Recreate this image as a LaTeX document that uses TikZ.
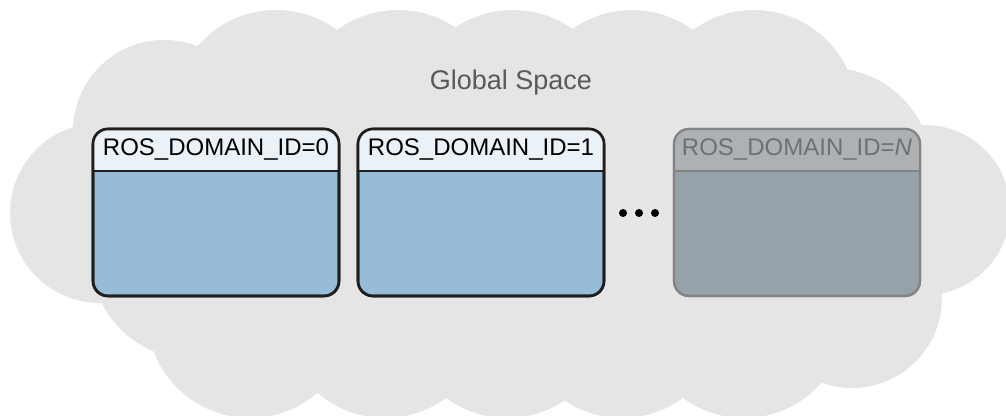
\documentclass[tikz,border=0pt]{standalone}
\usepackage{fontspec}
\setmainfont{Liberation Sans}
\usetikzlibrary{positioning}

\definecolor{cloudgray}{HTML}{E5E5E5}
\definecolor{titlegray}{HTML}{5A5A5A}
\definecolor{boxblue}{HTML}{96BCD8}
\definecolor{headblue}{HTML}{EAF1F7}
\definecolor{boxline}{HTML}{1E1E1E}
\definecolor{ghostbody}{HTML}{96A2AA}
\definecolor{ghosthead}{HTML}{ADB1B4}
\definecolor{ghostline}{HTML}{838383}
\definecolor{ghosttext}{HTML}{707070}

\begin{document}
\begin{tikzpicture}[x=1pt,y=-1pt,
  domainbox/.style={rectangle, rounded corners=15pt, minimum width=246pt,
    minimum height=167pt, inner sep=0pt, outer sep=0pt, line width=2.6pt,
    draw=boxline, fill=boxblue},
  ghostbox/.style={domainbox, draw=ghostline, fill=ghostbody, line width=2.2pt},
  headtext/.style={font=\fontsize{24}{24}\selectfont, text=black},
  globaltitle/.style={font=\fontsize{27}{27}\selectfont, text=titlegray}]
  \useasboundingbox (0,0) rectangle (1006,415);

  % cloud made of overlapping circles
  \begin{scope}
    \clip (0,0) rectangle (1006,415);
    \fill[cloudgray] (150,113) rectangle (880,315);
    \fill[cloudgray]
      (100,213) circle[radius=90]
      (164,131) circle[radius=91]
      (276,113) circle[radius=103]
      (398,113) circle[radius=103]
      (513,113) circle[radius=103]
      (632,113) circle[radius=103]
      (754,113) circle[radius=103]
      (830,170) circle[radius=102]
      (925,210) circle[radius=85]
      (852,298) circle[radius=90]
      (195,255) circle[radius=105]
      (250,315) circle[radius=103]
      (385,315) circle[radius=103]
      (507,315) circle[radius=103]
      (622,315) circle[radius=103]
      (744,315) circle[radius=103];
  \end{scope}

  \node[globaltitle] (gs) at (511,83) {Global Space};

  \node[domainbox] (d0) at (216,212.5) {};
  \node[domainbox, right=19pt of d0] (d1) {};
  \node[ghostbox, right=70pt of d1] (dN) {};
  \coordinate (dots) at (639,213);

  % header strips
  \begin{scope}
    \clip (d0.north west) rectangle ([yshift=-42pt]d0.north east);
    \fill[headblue, rounded corners=15pt] (d0.north west) rectangle (d0.south east);
  \end{scope}
  \begin{scope}
    \clip (d1.north west) rectangle ([yshift=-42pt]d1.north east);
    \fill[headblue, rounded corners=15pt] (d1.north west) rectangle (d1.south east);
  \end{scope}
  \begin{scope}
    \clip (dN.north west) rectangle ([yshift=-42pt]dN.north east);
    \fill[ghosthead, rounded corners=15pt] (dN.north west) rectangle (dN.south east);
  \end{scope}

  \draw[boxline, line width=2.6pt] ([yshift=-42pt]d0.north west) -- ([yshift=-42pt]d0.north east);
  \draw[boxline, line width=2.6pt] ([yshift=-42pt]d1.north west) -- ([yshift=-42pt]d1.north east);
  \draw[ghostline, line width=2.6pt] ([yshift=-42pt]dN.north west) -- ([yshift=-42pt]dN.north east);

  \draw[boxline, line width=2.6pt, rounded corners=15pt] (d0.north west) rectangle (d0.south east);
  \draw[boxline, line width=2.6pt, rounded corners=15pt] (d1.north west) rectangle (d1.south east);
  \draw[ghostline, line width=2.2pt, rounded corners=15pt] (dN.north west) rectangle (dN.south east);

  \node[headtext] (t0) at ([yshift=-21pt]d0.north) {ROS\_DOMAIN\_ID=0};
  \node[headtext] (t1) at ([yshift=-21pt]d1.north) {ROS\_DOMAIN\_ID=1};
  \node[headtext, text=ghosttext] (tN) at ([yshift=-21pt]dN.north) {ROS\_DOMAIN\_ID=\textit{N}};

  \fill ([xshift=-16pt]dots) circle[radius=4];
  \fill (dots) circle[radius=4];
  \fill ([xshift=16pt]dots) circle[radius=4];
\end{tikzpicture}
\end{document}
